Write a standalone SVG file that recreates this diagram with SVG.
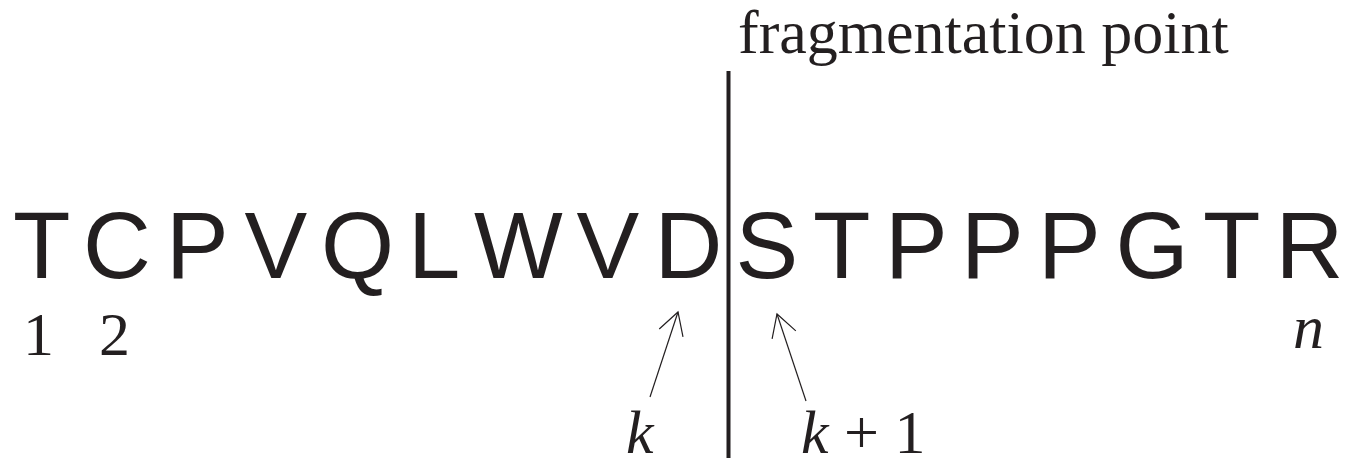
<svg xmlns="http://www.w3.org/2000/svg" width="1346" height="458" viewBox="0 0 1346 458">
  <style>
    .seq { font-family: "Liberation Sans", Arial, sans-serif; font-size: 94px; fill: #231f20; }
    .lbl { font-family: "Liberation Serif", "Times New Roman", serif; font-size: 62px; fill: #231f20; }
    .it { font-style: italic; }
    .arrow { fill: none; stroke: #231f20; stroke-width: 1.2; marker-end: url(#head); }
  </style>
  <defs>
    <marker id="head" markerUnits="userSpaceOnUse" orient="auto" markerWidth="40" markerHeight="40" refX="0" refY="0" viewBox="-30 -20 40 40" overflow="visible">
      <path d="M -22 -12.5 L 0 0 L -22 12.5" fill="none" stroke="#231f20" stroke-width="1.2"/>
    </marker>
  </defs>
  <rect width="1346" height="458" fill="#ffffff"/>
  <g id="sequence">
    <text class="seq" y="277.5" x="13 83 166 244.5 321 408 474 576.5 654.5 735.5 813 885 961 1038 1115.5 1203 1275.5">TCPVQLWVDSTPPPGTR</text>
  </g>
  <g id="title">
    <text class="lbl" x="738" y="53">fragmentation point</text>
  </g>
  <g id="cut-line">
    <rect x="726.5" y="71" width="4" height="387" fill="#231f20"/>
  </g>
  <g id="index-labels">
    <text class="lbl" x="23" y="355">1</text>
    <text class="lbl" x="99" y="355">2</text>
    <text class="lbl it" x="1293" y="348">n</text>
    <text class="lbl it" x="626" y="453">k</text>
    <text class="lbl" x="801" y="453"><tspan class="it">k</tspan> + 1</text>
  </g>
  <g id="connectors">
    <line class="arrow" x1="650" y1="397" x2="678" y2="312"/>
    <line class="arrow" x1="806" y1="401" x2="777" y2="314"/>
  </g>
</svg>
